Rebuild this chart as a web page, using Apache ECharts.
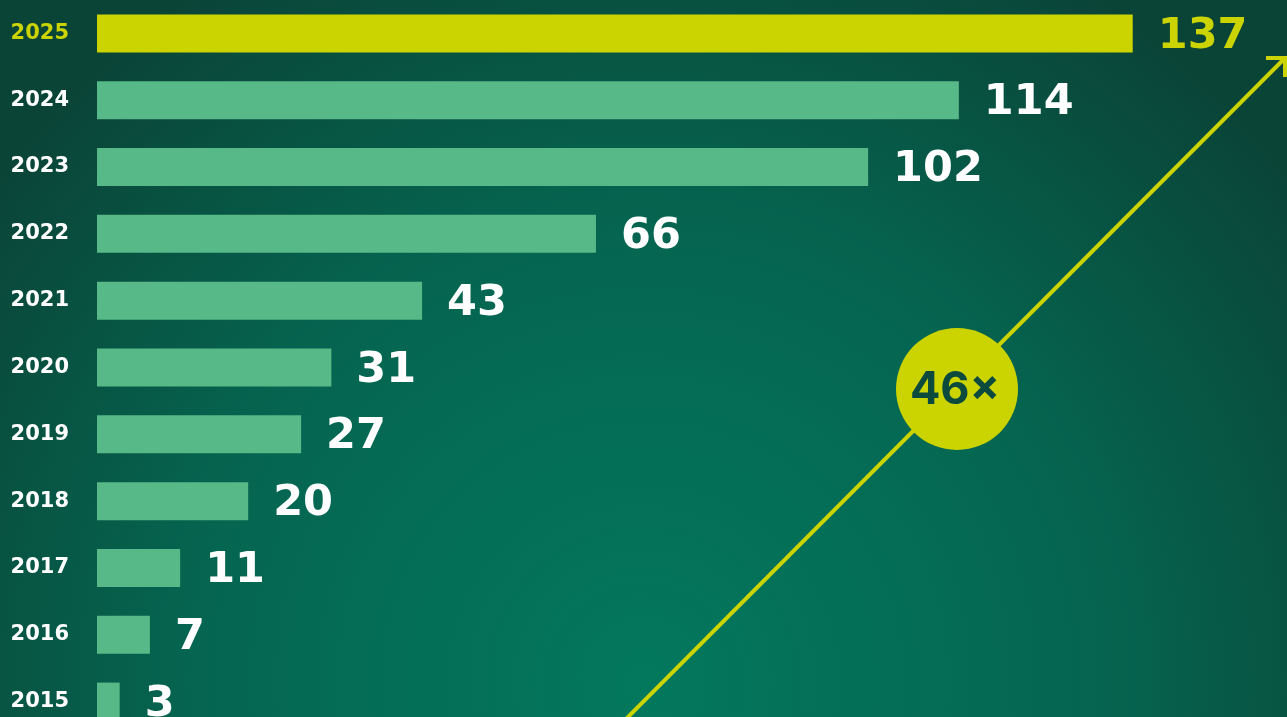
<!DOCTYPE html>
<html>
<head>
<meta charset="utf-8">
<script src="https://cdn.jsdelivr.net/npm/echarts@6/dist/echarts.min.js"></script>
<style>
  html, body { margin: 0; padding: 0; background: #0a4538; }
  #main { width: 1287px; height: 717px; }
</style>
</head>
<body>
<div id="main"></div>
<script>
// years, bottom to top
var years = ['2015', '2016', '2017', '2018', '2019', '2020', '2021', '2022', '2023', '2024', '2025'];
var counts = [3, 7, 11, 20, 27, 31, 43, 66, 102, 114, 137];
var growth = '46×';

var yellow = '#cbd400';
var green = '#57b987';
var dark = '#0b4a3c';
var numFont = 'DejaVu Sans';

var barData = [];
for (var i = 0; i < counts.length; i++) {
  var last = i == counts.length - 1;
  barData.push({
    value: counts[i],
    itemStyle: { color: last ? yellow : green },
    label: { color: last ? yellow : '#ffffff' }
  });
}

var chart = echarts.init(document.getElementById('main'));

var option = {
  backgroundColor: {
    type: 'radial', x: 0.5, y: 0.95, r: 1.15,
    colorStops: [
      { offset: 0, color: '#03785d' },
      { offset: 0.55, color: '#056550' },
      { offset: 1, color: '#0a4437' }
    ]
  },
  grid: { left: 97, right: 56, top: 0, bottom: -18, containLabel: false, outerBoundsMode: 'none' },
  xAxis: {
    type: 'value', min: 0, max: 150,
    show: false
  },
  yAxis: {
    type: 'category',
    data: years,
    axisLine: { show: false },
    axisTick: { show: false },
    splitLine: { show: false },
    axisLabel: {
      margin: 28,
      formatter: function (v) {
        return v == '2025' ? '{hl|' + v + '}' : '{n|' + v + '}';
      },
      rich: {
        hl: { color: yellow, fontSize: 21, fontWeight: 'bold', fontFamily: numFont },
        n: { color: '#ffffff', fontSize: 21, fontWeight: 'bold', fontFamily: numFont }
      }
    }
  },
  series: [{
    type: 'bar',
    data: barData,
    barWidth: 38,
    silent: true,
    label: {
      show: true,
      position: 'right',
      distance: 25,
      offset: [0, 3],
      fontSize: 43,
      fontWeight: 'bold',
      fontFamily: numFont
    }
  }],
  graphic: [
    // arrow
    {
      type: 'line', z: 10,
      shape: { x1: 625, y1: 720, x2: 1284, y2: 59 },
      style: { stroke: yellow, lineWidth: 4 }
    },
    {
      type: 'polyline', z: 10,
      shape: { points: [[1266, 58], [1285, 58], [1285, 77]] },
      style: { stroke: yellow, lineWidth: 4, fill: null }
    },
    // badge
    {
      type: 'circle', z: 11,
      shape: { cx: 957, cy: 389, r: 61 },
      style: { fill: yellow }
    },
    {
      type: 'text', z: 12,
      x: 955, y: 390,
      style: {
        text: growth,
        fill: dark,
        font: '700 45px Inter',
        align: 'center',
        verticalAlign: 'middle'
      }
    }
  ]
};

chart.setOption(option);
</script>
</body>
</html>
